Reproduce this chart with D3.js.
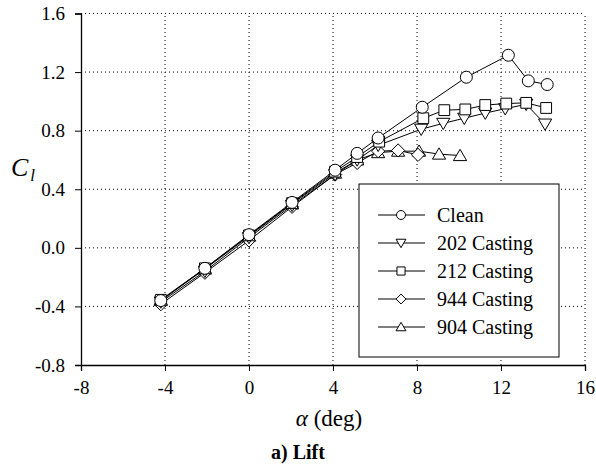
<!DOCTYPE html>
<html><head><meta charset="utf-8">
<script src="https://cdn.jsdelivr.net/npm/d3@7"></script>
</head><body style="margin:0"><svg id="c" width="596" height="475" font-family="Liberation Serif"></svg>
<script>
const seriesNames = ["Clean","202 Casting","212 Casting","944 Casting","904 Casting"];
const markerTypes = ["circle","triDown","square","diamond","triUp"];
const cleanAlpha = [-4.2,-2.1,0,2.05,4.1,5.15,6.15,8.25,10.35,12.35,13.3,14.2];
const cleanCl    = [-0.36,-0.14,0.09,0.31,0.53,0.645,0.75,0.96,1.165,1.315,1.14,1.115];
const c202Alpha = [-4.2,-2.1,0,2.05,4.1,5.15,6.15,8.2,9.25,10.25,11.25,12.2,13.2,14.1];
const c202Cl    = [-0.37,-0.16,0.07,0.29,0.5,0.6,0.70,0.81,0.85,0.885,0.92,0.95,0.98,0.845];
const c212Alpha = [-4.2,-2.1,0,2.05,4.1,5.15,6.2,8.3,9.3,10.3,11.25,12.25,13.2,14.15];
const c212Cl    = [-0.355,-0.14,0.085,0.305,0.52,0.62,0.725,0.885,0.94,0.945,0.975,0.985,0.99,0.955];
const c944Alpha = [-4.2,-2.1,0,2.05,4.1,5.15,6.15,7.1,8.05];
const c944Cl    = [-0.385,-0.17,0.05,0.28,0.5,0.58,0.66,0.665,0.635];
const c904Alpha = [-4.2,-2.1,0,2.05,4.1,5.15,6.15,7.1,8.1,9.05,10.05];
const c904Cl    = [-0.36,-0.145,0.08,0.3,0.51,0.6,0.65,0.66,0.66,0.64,0.63];
const xTicks = [-8,-4,0,4,8,12,16];
const yTicks = [-0.8,-0.4,0.0,0.4,0.8,1.2,1.6];
const xTickLabels = ["-8","-4","0","4","8","12","16"];
const yTickLabels = ["-0.8","-0.4","0.0","0.4","0.8","1.2","1.6"];

const FONT = "Liberation Serif";
const alphas = [cleanAlpha,c202Alpha,c212Alpha,c944Alpha,c904Alpha];
const cls = [cleanCl,c202Cl,c212Cl,c944Cl,c904Cl];

const svg = d3.select("#c");
const L=81,R=585,T=13.5,B=365;
const x = d3.scaleLinear().domain([-8,16]).range([L,R]);
const y = d3.scaleLinear().domain([-0.8,1.6]).range([B,T]);

// grid
const g = svg.append("g");
xTicks.slice(1).forEach(v=>g.append("line").attr("x1",x(v)).attr("x2",x(v)).attr("y1",B).attr("y2",T)
  .attr("stroke","#000").attr("stroke-width",1).attr("stroke-dasharray","1,3"));
yTicks.slice(1).forEach(v=>g.append("line").attr("x1",L).attr("x2",R).attr("y1",y(v)).attr("y2",y(v))
  .attr("stroke","#000").attr("stroke-width",1).attr("stroke-dasharray","1,3"));

// axes
const xa = svg.append("g").attr("transform",`translate(0,${B})`);
xa.call(d3.axisBottom(x).tickValues(d3.range(-8,17,1)).tickSize(5).tickFormat(""));
xa.call(d3.axisBottom(x).tickValues(xTicks).tickSize(6).tickFormat((d,i)=>xTickLabels[i]).tickPadding(10));
xa.attr("font-family",FONT).attr("font-size",19);
xa.selectAll(".domain").attr("stroke-width",1.3);
xa.selectAll("text").attr("font-size",19).attr("font-family",FONT);
const ya = svg.append("g").attr("transform",`translate(${L},0)`);
ya.call(d3.axisLeft(y).tickValues(d3.range(-8,17,1).map(v=>v/10)).tickSize(4).tickFormat(""));
ya.call(d3.axisLeft(y).tickValues(yTicks).tickSize(6).tickFormat((d,i)=>yTickLabels[i]).tickPadding(10));
ya.attr("font-family",FONT).attr("font-size",19);
ya.selectAll(".domain").attr("stroke-width",1.3);
ya.selectAll("text").attr("font-size",19).attr("font-family",FONT);

// markers
function markerPath(type, s){
  const p = d3.path();
  if(type==="circle"){ p.arc(0,0,s*0.5,0,2*Math.PI); }
  else if(type==="square"){ p.rect(-s*0.45,-s*0.45,s*0.9,s*0.9); }
  else if(type==="diamond"){ p.moveTo(0,-s*0.55);p.lineTo(s*0.55,0);p.lineTo(0,s*0.55);p.lineTo(-s*0.55,0);p.closePath(); }
  else if(type==="triDown"){ p.moveTo(-s*0.55,-s*0.42);p.lineTo(s*0.55,-s*0.42);p.lineTo(0,s*0.52);p.closePath(); }
  else if(type==="triUp"){ p.moveTo(-s*0.55,s*0.42);p.lineTo(s*0.55,s*0.42);p.lineTo(0,-s*0.52);p.closePath(); }
  return p.toString();
}
const line = d3.line().x(d=>x(d[0])).y(d=>y(d[1]));
const order = [4,3,1,2,0];
order.forEach(i=>{
  const pts = alphas[i].map((a,j)=>[a,cls[i][j]]);
  const sg = svg.append("g");
  sg.append("path").attr("d",line(pts)).attr("fill","none").attr("stroke","#000").attr("stroke-width",1);
  sg.selectAll("path.m").data(pts).enter().append("path").attr("class","m")
    .attr("transform",d=>`translate(${x(d[0])},${y(d[1])})`)
    .attr("d",markerPath(markerTypes[i],12)).attr("fill","#fff").attr("stroke","#000").attr("stroke-width",1);
});

// legend
const lg = svg.append("g").attr("font-family",FONT);
lg.append("rect").attr("x",359).attr("y",184).attr("width",200).attr("height",173).attr("fill","#fff").attr("stroke","#000").attr("stroke-width",1);
seriesNames.forEach((n,i)=>{
  const yy = 215 + i*28;
  lg.append("line").attr("x1",378).attr("x2",425).attr("y1",yy).attr("y2",yy).attr("stroke","#000");
  lg.append("path").attr("transform",`translate(401,${yy})`).attr("d",markerPath(markerTypes[i],9)).attr("fill","#fff").attr("stroke","#000");
  lg.append("text").attr("x",437).attr("y",yy+7).attr("font-size",20).attr("font-family",FONT).text(n);
});

// axis titles
const yl = svg.append("text").attr("x",11).attr("y",176).attr("font-size",26).attr("font-style","italic").attr("font-family",FONT);
yl.append("tspan").text("C");
yl.append("tspan").attr("font-size",17).attr("dy",5).attr("dx",2).text("l");
const xl = svg.append("text").attr("x",329).attr("y",426).attr("text-anchor","middle").attr("font-size",23).attr("font-family",FONT);
xl.append("tspan").attr("font-style","italic").text("α");
xl.append("tspan").text(" (deg)");
svg.append("text").attr("x",298).attr("y",459).attr("text-anchor","middle").attr("font-size",20).attr("font-weight","bold").attr("font-family",FONT).text("a) Lift");
</script></body></html>
